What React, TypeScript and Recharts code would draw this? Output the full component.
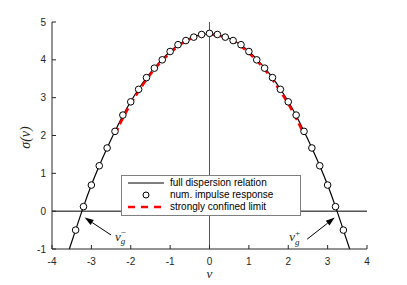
import {
  ComposedChart,
  Line,
  Scatter,
  XAxis,
  YAxis,
  ReferenceLine,
  Legend,
} from "recharts";

// axis ticks
const xTicks = [-4, -3, -2, -1, 0, 1, 2, 3, 4];
const yTicks = [-1, 0, 1, 2, 3, 4, 5];

// num. impulse response (circles)
const impulseV = [
  -3.4, -3.2, -3.0, -2.8, -2.6, -2.4, -2.2, -2.0, -1.8, -1.6, -1.4, -1.2, -1.0, -0.8, -0.6, -0.4, -0.2,
  0, 0.2, 0.4, 0.6, 0.8, 1.0, 1.2, 1.4, 1.6, 1.8, 2.0, 2.2, 2.4, 2.6, 2.8, 3.0, 3.2, 3.4,
];
const impulseSigma = [
  -0.5, 0.12, 0.69, 1.2, 1.67, 2.11, 2.54, 2.89, 3.22, 3.53, 3.78, 4.0, 4.22, 4.4, 4.51, 4.6, 4.67,
  4.7, 4.67, 4.6, 4.51, 4.4, 4.22, 4.0, 3.78, 3.53, 3.22, 2.89, 2.54, 2.11, 1.67, 1.2, 0.69, 0.12, -0.5,
];

// full dispersion relation (solid black)
const fullV = [
  -3.56, -3.4, -3.2, -3.0, -2.8, -2.6, -2.4, -2.2, -2.0, -1.8, -1.6, -1.4, -1.2, -1.0, -0.8, -0.6, -0.4, -0.2,
  0, 0.2, 0.4, 0.6, 0.8, 1.0, 1.2, 1.4, 1.6, 1.8, 2.0, 2.2, 2.4, 2.6, 2.8, 3.0, 3.2, 3.4, 3.56,
];
const fullSigma = [
  -1, -0.5, 0.12, 0.69, 1.2, 1.67, 2.11, 2.53, 2.9, 3.23, 3.53, 3.79, 4.02, 4.22, 4.39, 4.52, 4.61, 4.67,
  4.69, 4.67, 4.61, 4.52, 4.39, 4.22, 4.02, 3.79, 3.53, 3.23, 2.9, 2.53, 2.11, 1.67, 1.2, 0.69, 0.12, -0.5, -1,
];

// strongly confined limit (red dashed)
const confinedV = [
  -2.4, -2.2, -2.0, -1.8, -1.6, -1.4, -1.2, -1.0, -0.8, -0.6, -0.4, -0.2, 0, 0.2, 0.4, 0.6, 0.8, 1.0, 1.2, 1.4,
  1.6, 1.8, 2.0, 2.2, 2.4,
];
const confinedSigma = [
  2.03, 2.46, 2.84, 3.17, 3.48, 3.75, 3.98, 4.18, 4.36, 4.5, 4.59, 4.65, 4.67, 4.65, 4.59, 4.5, 4.36, 4.18,
  3.98, 3.75, 3.48, 3.17, 2.84, 2.46, 2.03,
];

const impulseData = impulseV.map((v, i) => ({ v, s: impulseSigma[i] }));
const fullData = fullV.map((v, i) => ({ v, s: fullSigma[i] }));
const confinedData = confinedV.map((v, i) => ({ v, s: confinedSigma[i] }));

// arrow annotations: tail -> tip, in data units
const arrowMinus = [
  { x: -2.5, y: -0.63 },
  { x: -3.17, y: -0.17 },
];
const arrowPlus = [
  { x: 2.48, y: -0.74 },
  { x: 3.18, y: -0.17 },
];

const tickFont = { fontFamily: "Liberation Sans, Arial, sans-serif", fontSize: 10, fill: "#262626" };
const mathFont = "Liberation Serif, Times New Roman, serif";

function Arrow(props: any) {
  const { x1, y1, x2, y2, sign, tdx, tdy } = props;
  const a = Math.atan2(y2 - y1, x2 - x1);
  const len = 9;
  const w = 3;
  const bx = x2 - len * Math.cos(a);
  const by = y2 - len * Math.sin(a);
  const px = -Math.sin(a) * w;
  const py = Math.cos(a) * w;
  return (
    <g>
      <line x1={x1} y1={y1} x2={bx} y2={by} stroke="#000" strokeWidth={1} />
      <polygon points={`${x2},${y2} ${bx + px},${by + py} ${bx - px},${by - py}`} fill="#000" />
      <text x={x1 + tdx} y={y1 + tdy} fontFamily={mathFont} fontStyle="italic" fontSize={13} fill="#262626">
        v
        <tspan dy={3.5} fontSize={9}>g</tspan>
        <tspan dx={-4.5} dy={-9} fontSize={9} fontStyle="normal">{sign}</tspan>
      </text>
    </g>
  );
}

function LegendBox() {
  const row = { display: "flex", alignItems: "center", height: 12 } as const;
  const sample = { width: 36, marginRight: 6, display: "flex", justifyContent: "center" } as const;
  return (
    <div
      style={{
        width: 172,
        height: 38,
        border: "1px solid #7f7f7f",
        background: "#fff",
        boxSizing: "content-box",
        padding: "1px 0 0 6px",
        fontFamily: "Liberation Sans, Arial, sans-serif",
        fontSize: 10,
        color: "#000",
        lineHeight: "12px",
      }}
    >
      <div style={row}>
        <div style={sample}>
          <svg width={36} height={4}>
            <line x1={0} y1={2} x2={36} y2={2} stroke="#000" strokeWidth={1} />
          </svg>
        </div>
        <span>full dispersion relation</span>
      </div>
      <div style={row}>
        <div style={sample}>
          <svg width={10} height={10}>
            <circle cx={5} cy={5} r={3} fill="#fff" stroke="#000" strokeWidth={1} />
          </svg>
        </div>
        <span>num. impulse response</span>
      </div>
      <div style={row}>
        <div style={sample}>
          <svg width={36} height={4}>
            <line x1={0} y1={2} x2={36} y2={2} stroke="#ff0000" strokeWidth={2.5} strokeDasharray="7 6" />
          </svg>
        </div>
        <span>strongly confined limit</span>
      </div>
    </div>
  );
}

export default function App() {
  return (
    <div style={{ position: "absolute", left: 0, top: 0, width: 407, height: 285, background: "#fff" }}>
      <ComposedChart width={407} height={285} margin={{ top: 22, right: 40, bottom: 10, left: 0 }}>
        <XAxis
          type="number"
          dataKey="v"
          domain={[-4, 4]}
          ticks={xTicks}
          tick={tickFont}
          tickSize={-4}
          tickMargin={13}
          height={26}
          stroke="#262626"
          label={(p: any) => {
            const vb = p.viewBox;
            return (
              <text
                x={vb.x + vb.width / 2}
                y={vb.y + 29}
                textAnchor="middle"
                fontFamily={mathFont}
                fontStyle="italic"
                fontSize={13}
                fill="#262626"
              >
                v
              </text>
            );
          }}
        />
        <XAxis
          xAxisId="top"
          orientation="top"
          type="number"
          domain={[-4, 4]}
          ticks={xTicks}
          tickFormatter={() => ""}
          tickSize={-4}
          height={0}
          stroke="#262626"
        />
        <YAxis
          type="number"
          domain={[-1, 5]}
          ticks={yTicks}
          tick={tickFont}
          tickSize={-4}
          tickMargin={10}
          width={52}
          stroke="#262626"
          label={(p: any) => {
            const vb = p.viewBox;
            const cx = 27;
            const cy = vb.y + vb.height / 2 + 2;
            return (
              <text
                x={cx}
                y={cy}
                transform={`rotate(-90, ${cx}, ${cy})`}
                textAnchor="middle"
                dominantBaseline="middle"
                fontFamily={mathFont}
                fontStyle="italic"
                fontSize={14}
                fill="#262626"
              >
                σ(v)
              </text>
            );
          }}
        />
        <YAxis
          yAxisId="right"
          orientation="right"
          type="number"
          domain={[-1, 5]}
          ticks={yTicks}
          tickFormatter={() => ""}
          tickSize={-4}
          width={0}
          stroke="#262626"
        />
        <ReferenceLine y={0} stroke="#000" strokeWidth={1} />
        <ReferenceLine x={0} stroke="#555" strokeWidth={1} />
        <Line
          data={fullData}
          dataKey="s"
          type="monotone"
          stroke="#000"
          strokeWidth={1.2}
          dot={false}
          activeDot={false}
          isAnimationActive={false}
        />
        <Line
          data={confinedData}
          dataKey="s"
          type="monotone"
          stroke="#ff0000"
          strokeWidth={2.6}
          strokeDasharray="7 4"
          dot={false}
          activeDot={false}
          isAnimationActive={false}
        />
        <Scatter
          data={impulseData}
          dataKey="s"
          isAnimationActive={false}
          shape={(p: any) => <circle cx={p.cx} cy={p.cy} r={3.3} fill="#fff" stroke="#000" strokeWidth={1} />}
        />
        <ReferenceLine
          segment={arrowMinus}
          shape={(p: any) => <Arrow {...p} sign="−" tdx={4} tdy={5.5} />}
        />
        <ReferenceLine
          segment={arrowPlus}
          shape={(p: any) => <Arrow {...p} sign="+" tdx={-18} tdy={2} />}
        />
        <Legend
          layout="vertical"
          align="center"
          verticalAlign="middle"
          content={() => <LegendBox />}
          wrapperStyle={{ left: 121, top: 175, width: 180, height: 41 }}
        />
      </ComposedChart>
    </div>
  );
}
